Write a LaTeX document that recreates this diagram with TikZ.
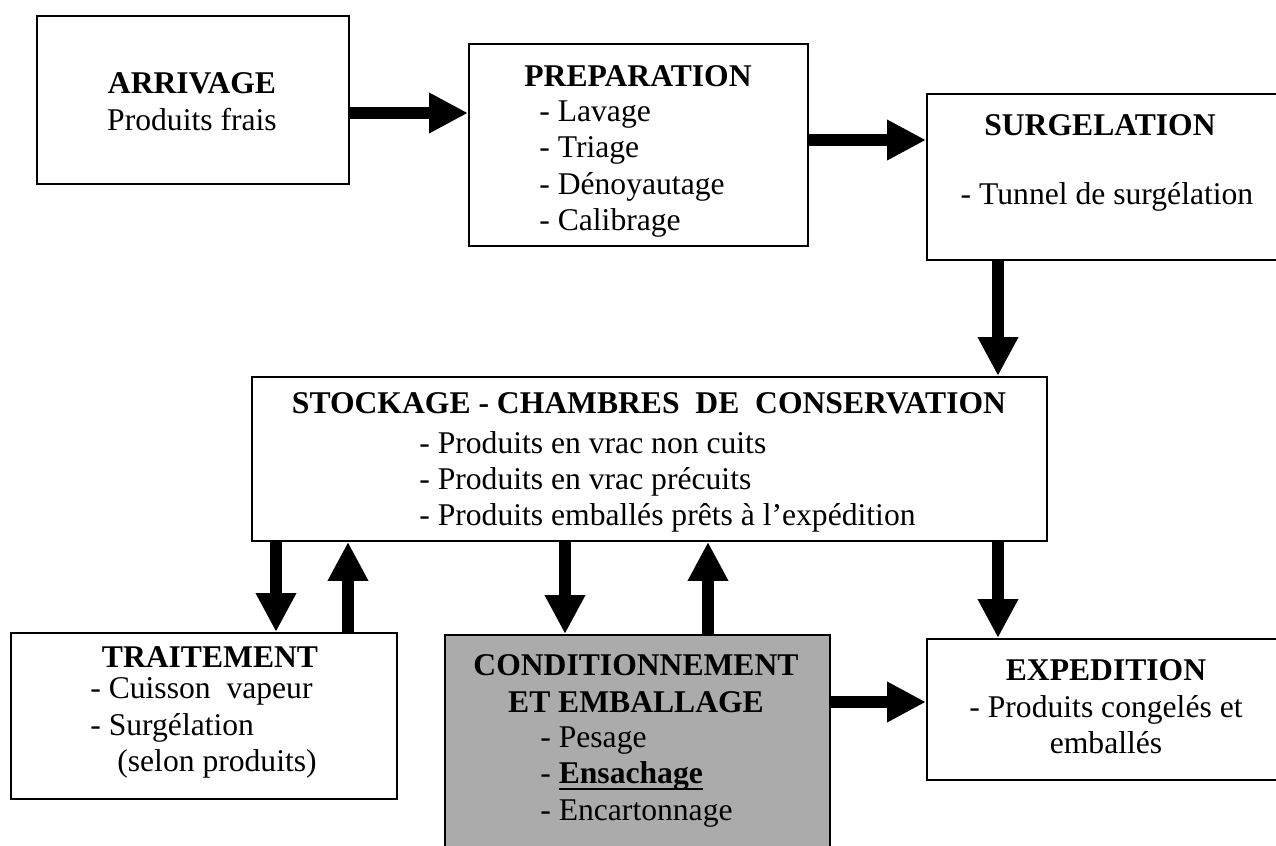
\documentclass[tikz,border=0pt]{standalone}
\usepackage{fontspec}
\setmainfont{Liberation Serif}
\usetikzlibrary{arrows.meta, positioning}

% thick underline
\newcommand{\souligne}[1]{{\setbox0\hbox{#1}\rlap{\rule[-0.2em]{\wd0}{1.5pt}}\box0}}

\begin{document}
\begin{tikzpicture}[
    x=0.02cm, y=-0.02cm, % one unit = one pixel, y downwards
    box/.style={draw, black, line width=1.1pt, inner sep=0pt, anchor=north west},
    grisbox/.style={box, fill=black!33},
    titre/.style={font=\fontsize{18}{21}\selectfont\bfseries, inner sep=0pt, align=center},
    texte/.style={font=\fontsize{18}{20.5}\selectfont, inner sep=0pt, align=center},
    liste/.style={font=\fontsize{18}{20.7}\selectfont, inner sep=0pt, align=left, anchor=west},
    flux/.style={-{Triangle[length=0.78cm, width=0.76cm]}, line width=0.24cm}
]

% Define pixel unit
\def\pxu{0.02cm}

\useasboundingbox (0,0) rectangle (1276,846);

% Draw Boxes
\node[box, minimum width=312*\pxu, minimum height=168*\pxu] (arrivage) at (36,15) {};
\node[box, minimum width=339*\pxu, minimum height=202*\pxu] (prep) at (468,43) {};
\node[box, minimum width=360*\pxu, minimum height=166*\pxu] (surg) at (926,93) {};
\node[box, minimum width=795*\pxu, minimum height=164*\pxu] (stock) at (251,376) {};
\node[box, minimum width=386*\pxu, minimum height=166*\pxu] (trait) at (10,632) {};
\node[grisbox, minimum width=385*\pxu, minimum height=230*\pxu] (cond) at (444,634) {};
\node[box, minimum width=360*\pxu, minimum height=141*\pxu] (exped) at (926,638) {};

% Add Labels
\node[titre] (arrivage-t) at (192,83) {ARRIVAGE};
\node[texte] (arrivage-l) at (192,120) {Produits frais};

\node[titre] (prep-t) at (638,76) {PREPARATION};
\node[liste] (prep-l) at (539,169) {- Lavage\\- Triage\\- Dénoyautage\\- Calibrage};

\node[titre] (surg-t) at (1100,125) {SURGELATION};
\node[texte] (surg-l) at (1107,197) {- Tunnel de surgélation};

\node[titre] (stock-t) at (649,403) {STOCKAGE - CHAMBRES\ \ DE\ \ CONSERVATION};
\node[liste] (stock-l) at (419,482) {- Produits en vrac non cuits\\- Produits en vrac précuits\\- Produits emballés prêts à l’expédition};

\node[titre] (trait-t) at (210,657) {TRAITEMENT};
\node[liste] (trait-l) at (90,728) {- Cuisson\ \ vapeur\\- Surgélation\\\hspace*{0.54cm}(selon produits)};

\node[titre] (cond-t) at (636,684) {CONDITIONNEMENT\\ET EMBALLAGE};
\node[liste] (cond-l) at (540,777) {- Pesage\\- \souligne{\textbf{Ensachage}}\\- Encartonnage};

\node[titre] (exped-t) at (1106,670) {EXPEDITION};
\node[texte] (exped-l) at (1106,725) {- Produits congelés et\\emballés};

% Draw Arrows
\draw[flux] (arrivage.east |- 0,113) -- (prep.west |- 0,113);
\draw[flux] (prep.east |- 0,140) -- (surg.west |- 0,140);
\draw[flux] (surg.south -| 998,0) -- (stock.north -| 998,0);
\draw[flux] (stock.south -| 276,0) -- (trait.north -| 276,0);
\draw[flux] (trait.north -| 348,0) -- (stock.south -| 348,0);
\draw[flux] (stock.south -| 565,0) -- (cond.north -| 565,0);
\draw[flux] (cond.north -| 708,0) -- (stock.south -| 708,0);
\draw[flux] (stock.south -| 998,0) -- (exped.north -| 998,0);
\draw[flux] (cond.east |- 0,702) -- (exped.west |- 0,702);

\end{tikzpicture}
\end{document}
